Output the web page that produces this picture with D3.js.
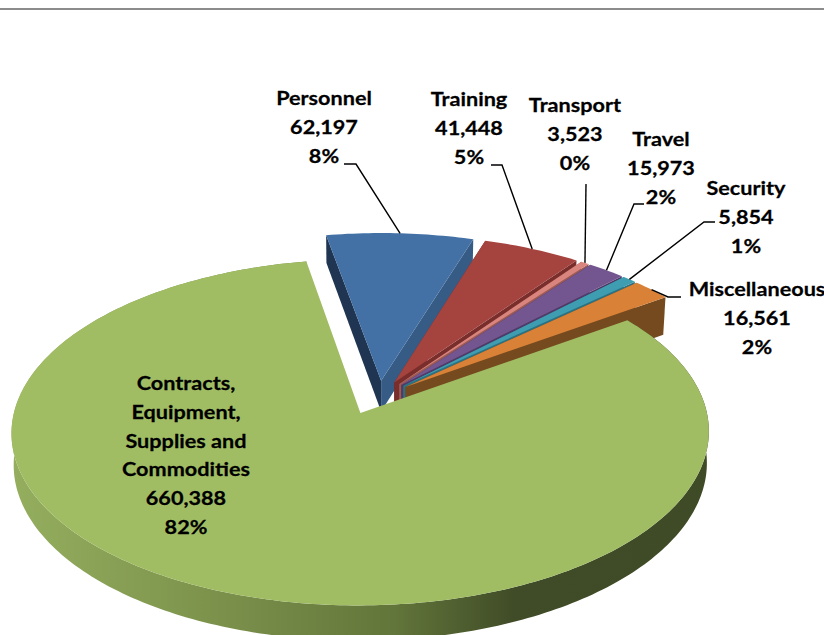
<!DOCTYPE html>
<html>
<head>
<meta charset="utf-8">
<script src="https://cdn.jsdelivr.net/npm/d3@7"></script>
<style>
  html, body { margin: 0; padding: 0; background: #fff; overflow: hidden; }
  text { font-family: Lato, "Open Sans", sans-serif; font-weight: 700; font-size: 18.5px; fill: #000; stroke: #000; stroke-width: 0.25px; }
</style>
</head>
<body>
<script>
// data
var categories = ["Personnel", "Training", "Transport", "Travel", "Security", "Miscellaneous", "Contracts, Equipment, Supplies and Commodities"];
var values = [62197, 41448, 3523, 15973, 5854, 16561, 660388];

// slice colours: top, left wall, right wall
var topColors = ["#4371a6", "#a5433f", "#d9847d", "#735590", "#3e9db0", "#d98137", "#a0bd64"];
var leftWalls = ["#1f3552", "#6e2a28", "#8f4f4a", "#4a3560", "#2a6a78", "#754a1f", "#6a7d3e"];
var rightWalls = ["#365b85", "#7a2e2b", "#9c5a55", "#4f3a68", "#2b7282", "#754a1f", "#6a7d3e"];

// label layout: centre x and first baseline, one row per line
var labelLines = [["Personnel"], ["Training"], ["Transport"], ["Travel"], ["Security"], ["Miscellaneous"],
                  ["Contracts,", "Equipment,", "Supplies and", "Commodities"]];
var labelX = [324, 469, 575, 661, 746, 757, 186];
var labelY = [105, 106, 112, 146, 195, 296, 390];
var lineGap = 28.8;
var textStretch = 1.17; // the original text is wider than any font here

// leader start and elbow (null = the big slice has none)
var leaderStart = [[344, 164], [491, 165], [586, 184], [644, 204], [715, 222], [681, 297], null];
var leaderElbow = [[356, 164], [502, 165], [586, 184], [634, 204], [704, 222], [668, 297], null];

var width = 824, height = 635;

// pie projection, fitted to the picture
var cx = 379, cy = 397.4, rx = 343, ry = 167.5;
var persp = 0.11, depth = 31;
var explode = 0.1, bigExplodeX = 0.142;
var orangeWall = 1.3; // the last small slice shows a taller wall
var startDeg = -10.3;

var xScale = d3.scaleLinear().domain([-1, 1]).range([cx - rx, cx + rx]);
var yScale = d3.scaleLinear().domain([-1, 1]).range([cy - ry, cy + ry]);

function project(u, v, z) {
  var w = 1 - persp * v;
  var shrink = 1 - 0.006 * z;
  return [cx + (xScale(u / w) - cx) * shrink, yScale(v / w) + z * depth / w];
}

// point on a slice: r from its own centre at angle a, moved out along the mid angle
function point(d, a, r, z) {
  var mid = (d.startAngle + d.endAngle) / 2;
  var ex = d.index === values.length - 1 ? bigExplodeX : explode;
  var u = r * Math.sin(a) + ex * Math.sin(mid);
  var v = -r * Math.cos(a) - explode * Math.cos(mid);
  return project(u, v, z);
}

function rim(d, z) {
  var step = Math.PI / 180;
  return d3.range(d.startAngle, d.endAngle, step).concat([d.endAngle])
    .map(function(a) { return point(d, a, 1, z); });
}

var pie = d3.pie().sort(null)
  .startAngle(startDeg * Math.PI / 180)
  .endAngle((startDeg + 360) * Math.PI / 180);
var slices = pie(values);
var total = d3.sum(values);
var line = d3.line();

var svg = d3.select("body").append("svg")
  .attr("width", width)
  .attr("height", height)
  .style("display", "block");

// shading of the big slice's rim
var grad = svg.append("defs").append("linearGradient")
  .attr("id", "rimShade")
  .attr("gradientUnits", "userSpaceOnUse")
  .attr("x1", 12).attr("x2", 709).attr("y1", 0).attr("y2", 0);
[[0, "#94ae5e"], [0.3, "#7b914b"], [0.55, "#62753a"], [0.72, "#404c27"], [1, "#3f4a26"]].forEach(function(s) {
  grad.append("stop").attr("offset", s[0]).attr("stop-color", s[1]);
});

// rule at the top of the page
svg.append("rect")
  .attr("x", 0).attr("y", 8)
  .attr("width", width).attr("height", 2)
  .attr("fill", "#8c8c8c");

var last = slices.length - 1;

// slices, back to front
slices.forEach(function(d, i) {
  var g = svg.append("g").attr("class", "slice");
  var wall = i === last - 1 ? orangeWall : 1;
  var apex = function(z) { return point(d, 0, 0, z); };
  var first = function(z) { return point(d, d.startAngle, 1, z); };
  var end = function(z) { return point(d, d.endAngle, 1, z); };

  if (i === last) {
    var strip = rim(d, 0).concat(rim(d, 1).reverse());
    g.append("path").attr("d", line(strip) + "Z").attr("fill", "url(#rimShade)");
  } else {
    g.append("path")
      .attr("d", line([first(0), apex(0), apex(1), first(1)]) + "Z")
      .attr("fill", leftWalls[i]);
    g.append("path")
      .attr("d", line([end(0), apex(0), apex(wall), end(wall)]) + "Z")
      .attr("fill", rightWalls[i]);
  }
  g.append("path")
    .attr("d", line([apex(0)].concat(rim(d, 0))) + "Z")
    .attr("fill", topColors[i]);
});

// leader lines run to the middle of each slice's rim
slices.forEach(function(d, i) {
  if (!leaderStart[i]) return;
  var tip = point(d, (d.startAngle + d.endAngle) / 2, 1, 0);
  svg.append("path")
    .attr("d", line([leaderStart[i], leaderElbow[i], tip]))
    .attr("fill", "none")
    .attr("stroke", "#000")
    .attr("stroke-width", 1.4);
});

// labels
var fmtValue = d3.format(",");
var fmtPct = d3.format(".0%");
slices.forEach(function(d, i) {
  var rows = labelLines[i].concat([fmtValue(d.value), fmtPct(d.value / total)]);
  svg.append("g").selectAll("text").data(rows).enter()
    .append("text")
    .attr("text-anchor", "middle")
    .attr("transform", function(r, j) {
      return "translate(" + labelX[i] + "," + (labelY[i] + j * lineGap) + ") scale(" + textStretch + ",1)";
    })
    .text(function(r) { return r; });
});
</script>
</body>
</html>
